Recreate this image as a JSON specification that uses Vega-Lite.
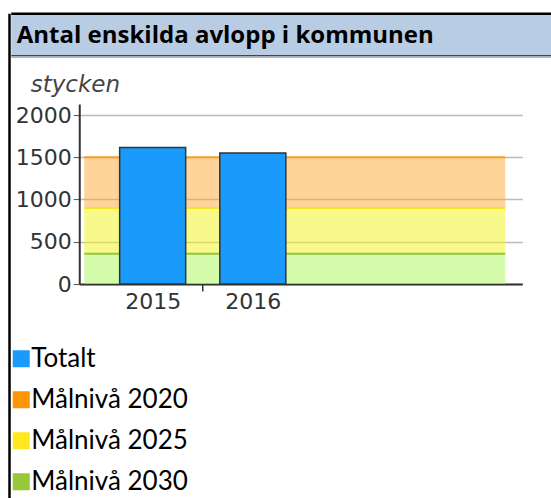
{
  "$schema": "https://vega.github.io/schema/vega-lite/v6.json",
  "background": "white",
  "padding": {"left": 8.25, "top": 11.75, "right": 0, "bottom": 0},
  "spacing": 0,
  "bounds": "flush",
  "config": {"view": {"stroke": null}, "font": "DejaVu Sans"},
  "hconcat": [
    {
      "width": 2.5,
      "height": 486,
      "view": {"fill": "black", "stroke": null},
      "data": {"values": []},
      "mark": {"type": "rule"},
      "encoding": {}
    },
    {
      "bounds": "flush",
      "spacing": 48.3,
      "vconcat": [
        {
          "width": 541,
          "height": 42,
          "view": {"fill": "#b8cce4", "stroke": null},
          "data": {"values": [{"title": "Antal enskilda avlopp i kommunen"}]},
          "layer": [
            {
              "mark": {"type": "text", "font": "Open Sans", "fontWeight": "bold", "fontSize": 24, "align": "left", "baseline": "alphabetic", "color": "black"},
              "encoding": {"text": {"field": "title"}, "x": {"value": 5.5}, "y": {"value": 29}}
            },
            {"mark": {"type": "rule", "color": "black", "strokeWidth": 2.5, "strokeCap": "butt"},
             "encoding": {"x": {"value": 0}, "x2": {"value": "width"}, "y": {"value": 0}, "y2": {"value": 0}}},
            {"mark": {"type": "rule", "color": "#3a4758", "strokeWidth": 1.5, "strokeCap": "butt"},
             "encoding": {"x": {"value": 0}, "x2": {"value": "width"}, "y": {"value": 42}, "y2": {"value": 42}}},
            {"mark": {"type": "rule", "color": "#b5b5b5", "strokeWidth": 1.5, "strokeCap": "butt"},
             "encoding": {"x": {"value": 0}, "x2": {"value": "width"}, "y": {"value": 43.5}, "y2": {"value": 43.5}}}
          ]
        },
        {
          "bounds": "flush",
          "spacing": 67,
          "hconcat": [
            {
              "width": 1,
              "height": 180,
              "data": {"values": []},
              "mark": {"type": "rule"},
              "encoding": {}
            },
            {
              "width": 443,
              "height": 180,
              "view": {"stroke": null},
              "layer": [
                {
                  "data": {"values": [
                    {"serie": "Målnivå 2020", "from": 900, "to": 1500},
                    {"serie": "Målnivå 2025", "from": 360, "to": 900},
                    {"serie": "Målnivå 2030", "from": 0, "to": 360}
                  ]},
                  "mark": {"type": "rect", "fillOpacity": 0.5},
                  "encoding": {
                    "x": {"datum": 2014.317, "type": "quantitative"},
                    "x2": {"datum": 2018.52},
                    "y": {"field": "from", "type": "quantitative"},
                    "y2": {"field": "to"},
                    "fill": {"field": "serie", "type": "nominal", "legend": null,
                      "scale": {"domain": ["Målnivå 2020", "Målnivå 2025", "Målnivå 2030"], "range": ["#fda935", "#eff317", "#a9f955"]}}
                  }
                },
                {
                  "data": {"values": [
                    {"serie": "Målnivå 2020", "from": 900, "to": 1500},
                    {"serie": "Målnivå 2025", "from": 360, "to": 900},
                    {"serie": "Målnivå 2030", "from": 0, "to": 360}
                  ]},
                  "mark": {"type": "rule", "strokeWidth": 2},
                  "encoding": {
                    "x": {"datum": 2014.317, "type": "quantitative"},
                    "x2": {"datum": 2018.52},
                    "y": {"field": "to", "type": "quantitative"},
                    "stroke": {"field": "serie", "type": "nominal", "legend": null,
                      "scale": {"domain": ["Målnivå 2020", "Målnivå 2025", "Målnivå 2030"], "range": ["#f9a12a", "#f5e61e", "#95c53c"]}}
                  }
                },
                {
                  "data": {"values": [
                    {"year": 2015, "value": 1615, "serie": "Totalt"},
                    {"year": 2016, "value": 1550, "serie": "Totalt"}
                  ]},
                  "mark": {"type": "bar", "width": 66, "stroke": "#333333", "strokeWidth": 1.5},
                  "encoding": {
                    "x": {"field": "year", "type": "quantitative",
                      "scale": {"domain": [2014.317, 2018.64], "nice": false, "zero": false},
                      "axis": {
                        "title": null, "grid": false, "values": [2015, 2015.5, 2016], "format": "d",
                        "labelExpr": "datum.value == 2015.5 ? '' : datum.label",
                        "tickOpacity": {"condition": {"test": "datum.value == 2015.5", "value": 1}, "value": 0},
                        "tickSize": 7, "tickColor": "#333333", "tickWidth": 1.5,
                        "domainColor": "#333333", "domainWidth": 2,
                        "labelFontSize": 22, "labelColor": "#333333", "labelPadding": 0, "labelFont": "DejaVu Sans"
                      }},
                    "y": {"field": "value", "type": "quantitative",
                      "scale": {"domain": [0, 2130], "nice": false},
                      "axis": {
                        "values": [0, 500, 1000, 1500, 2000], "format": "d", "grid": true, "gridColor": "#bbbbbb", "gridWidth": 1.5,
                        "tickSize": 6, "tickColor": "#555555", "domainColor": "#333333", "domainWidth": 2,
                        "labelFontSize": 22, "labelColor": "#333333", "labelPadding": 2, "labelFont": "DejaVu Sans",
                        "title": "stycken", "titleAngle": 0, "titleFontStyle": "italic", "titleFontWeight": "normal",
                        "titleFontSize": 23, "titleColor": "#444444", "titleAlign": "left", "titleBaseline": "alphabetic",
                        "titleFont": "DejaVu Sans", "titleX": -49, "titleY": -13
                      }},
                    "color": {"field": "serie", "type": "nominal",
                      "scale": {"domain": ["Totalt", "Målnivå 2020", "Målnivå 2025", "Målnivå 2030"], "range": ["#1a9bfc", "#ff9500", "#ffe81e", "#96c83a"]},
                      "legend": {
                        "orient": "none", "legendX": 0, "legendY": 332, "direction": "vertical", "title": null,
                        "padding": 0, "symbolType": "square", "symbolSize": 289, "symbolStrokeWidth": 0, "symbolOpacity": 1,
                        "labelFont": "Lato", "labelFontSize": 26, "labelColor": "black", "labelOffset": -3, "rowPadding": 15
                      }}
                  }
                }
              ]
            }
          ]
        }
      ]
    }
  ]
}
